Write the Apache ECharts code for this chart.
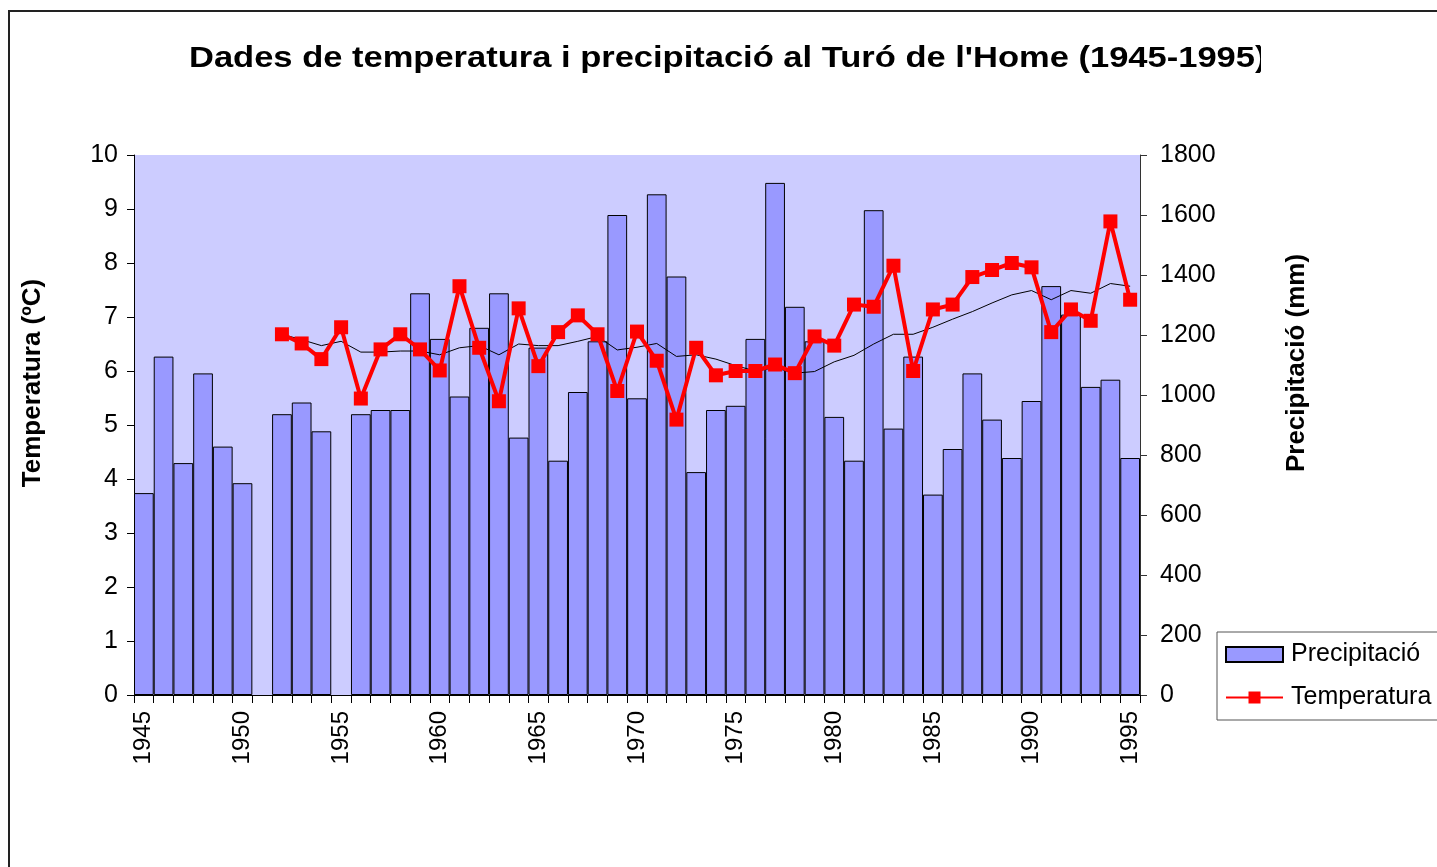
<!DOCTYPE html>
<html>
<head>
<meta charset="utf-8">
<script src="https://cdn.jsdelivr.net/npm/echarts@6/dist/echarts.min.js"></script>
<style>
html,body{margin:0;padding:0;background:#fff;}
#c{width:1437px;height:867px;}
</style>
</head>
<body>
<div id="c"></div>
<script>
const years = ['1945','1946','1947','1948','1949','1950','1951','1952','1953','1954',
  '1955','1956','1957','1958','1959','1960','1961','1962','1963','1964',
  '1965','1966','1967','1968','1969','1970','1971','1972','1973','1974',
  '1975','1976','1977','1978','1979','1980','1981','1982','1983','1984',
  '1985','1986','1987','1988','1989','1990','1991','1992','1993','1994','1995'];

// Precipitació (mm)
const precipitacio = [673,1128,773,1072,828,706,null,936,975,879,
  null,936,950,950,1339,1187,995,1224,1339,858,
  1158,781,1010,1179,1600,989,1669,1395,743,950,
  964,1187,1707,1294,1179,927,781,1616,888,1128,
  668,820,1072,918,790,980,1363,1268,1027,1051,790];

// Temperatura (ºC)
const temperatura = [null,null,null,null,null,null,null,6.68,6.51,6.22,
  6.81,5.49,6.40,6.68,6.40,6.01,7.57,6.43,5.44,7.16,
  6.09,6.72,7.03,6.68,5.63,6.73,6.19,5.10,6.43,5.92,
  6.00,6.00,6.12,5.96,6.64,6.47,7.23,7.19,7.95,6.00,
  7.14,7.23,7.74,7.87,8.00,7.92,6.72,7.14,6.93,8.77,7.32];

// Línia de tendència (mitjana), llegida del gràfic
const mitjana = [null,null,null,null,null,null,null,6.68,6.58,6.47,
  6.55,6.35,6.35,6.37,6.37,6.30,6.43,6.47,6.30,6.50,
  6.47,6.47,6.55,6.64,6.39,6.44,6.51,6.27,6.30,6.22,
  6.10,6.00,6.06,5.96,5.99,6.17,6.29,6.50,6.68,6.68,
  6.81,6.96,7.10,7.26,7.41,7.49,7.32,7.49,7.44,7.62,7.57];

const tempAxis = {min: 0, max: 10, interval: 1};
const precAxis = {min: 0, max: 1800, interval: 200};

const titleText = "Dades de temperatura i precipitació al Turó de l'Home (1945-1995)";
const FF = "'Liberation Sans', Arial, Helvetica, sans-serif";

const chart = echarts.init(document.getElementById('c'), null, {renderer: 'canvas'});
chart.setOption({
  animation: false,
  backgroundColor: '#ffffff',
  textStyle: {fontFamily: FF},
  grid: {
    left: 134, right: 297, top: 155, bottom: 172,
    show: true, backgroundColor: '#CCCCFF', borderWidth: 0
  },
  legend: {
    orient: 'vertical', left: 1217, top: 632,
    padding: [10, 30, 10, 8], itemGap: 18, itemWidth: 57, itemHeight: 15,
    backgroundColor: '#ffffff', borderColor: '#555555', borderWidth: 1, borderRadius: 0,
    textStyle: {fontSize: 25, color: '#000', fontFamily: FF, padding: [0, 0, 0, 3]},
    data: [{name: 'Precipitació', icon: 'rect'}, {name: 'Temperatura'}]
  },
  xAxis: {
    type: 'category', data: years, boundaryGap: true,
    axisLine: {show: true, onZero: false, lineStyle: {color: '#000', width: 1}},
    axisTick: {show: true, interval: 0, length: 8, inside: false, lineStyle: {color: '#000'}},
    axisLabel: {interval: 4, rotate: 90, fontSize: 24, color: '#000', margin: 16, fontFamily: FF},
    splitLine: {show: false}
  },
  yAxis: [
    {
      type: 'value', position: 'left', min: tempAxis.min, max: tempAxis.max, interval: tempAxis.interval,
      axisLine: {show: true, lineStyle: {color: '#000', width: 1}},
      axisTick: {show: true, length: 7, inside: false, lineStyle: {color: '#000'}},
      axisLabel: {fontSize: 25, color: '#000', margin: 16, fontFamily: FF},
      splitLine: {show: false}
    },
    {
      type: 'value', position: 'right', min: precAxis.min, max: precAxis.max, interval: precAxis.interval,
      axisLine: {show: true, lineStyle: {color: '#333', width: 1}},
      axisTick: {show: true, length: 7, inside: false, lineStyle: {color: '#333'}},
      axisLabel: {fontSize: 25, color: '#000', margin: 20, fontFamily: FF, formatter: function (v) { return String(v); }},
      splitLine: {show: false}
    }
  ],
  series: [
    {
      name: 'Precipitació', type: 'bar', yAxisIndex: 1, data: precipitacio,
      barCategoryGap: '0%', barGap: '0%',
      itemStyle: {color: '#9999FF', borderColor: '#000000', borderWidth: 1},
      z: 2
    },
    {
      name: 'Mitjana', type: 'line', yAxisIndex: 0, data: mitjana,
      symbol: 'none', lineStyle: {color: '#000', width: 1}, silent: true, z: 3
    },
    {
      name: 'Temperatura', type: 'line', yAxisIndex: 0, data: temperatura,
      symbol: 'rect', symbolSize: 14, showAllSymbol: true,
      lineStyle: {color: '#FF0000', width: 4},
      itemStyle: {color: '#FF0000'},
      z: 4
    }
  ],
  graphic: [
    {
      type: 'rect', silent: true, z: 0,
      shape: {x: 9, y: 11, width: 1600, height: 1000},
      style: {fill: 'none', stroke: '#222', lineWidth: 2}
    },
    {
      type: 'text', x: 189, y: 59, scaleX: 1.15, z: 10,
      style: {text: titleText, fill: '#000', font: 'bold 30px ' + FF, textAlign: 'left', textVerticalAlign: 'middle'}
    },
    {
      type: 'rect', silent: true, z: 11,
      shape: {x: 1261, y: 36, width: 60, height: 48},
      style: {fill: '#ffffff'}
    },
    {
      type: 'text', x: 33, y: 383, rotation: Math.PI / 2, z: 10,
      style: {text: 'Temperatura (ºC)', fill: '#000', font: 'bold 26px ' + FF, textAlign: 'center', textVerticalAlign: 'middle'}
    },
    {
      type: 'text', x: 1297, y: 363, rotation: Math.PI / 2, z: 10,
      style: {text: 'Precipitació (mm)', fill: '#000', font: 'bold 26px ' + FF, textAlign: 'center', textVerticalAlign: 'middle'}
    }
  ]
});
</script>
</body>
</html>
